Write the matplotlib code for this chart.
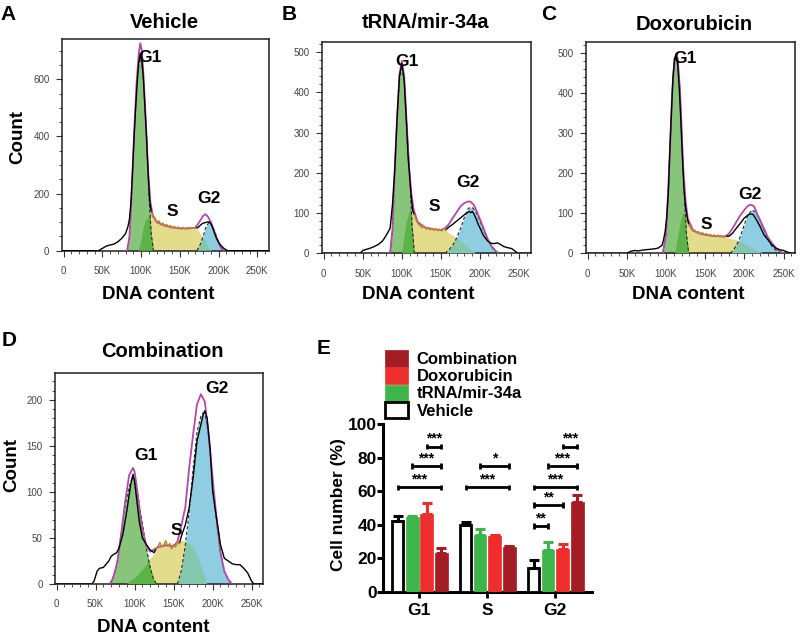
import numpy as np
import matplotlib
matplotlib.use('Agg')
import matplotlib.pyplot as plt
from matplotlib.ticker import MultipleLocator, FuncFormatter
from matplotlib.patches import Patch

plt.rcParams['font.family'] = ['Liberation Sans', 'DejaVu Sans']

# ---------------- Panel A: Vehicle (DNA content in K) ----------------
A_data_x = [0, 45, 50, 55, 60, 65, 70, 75, 80, 83, 85, 87, 89, 91, 93, 95, 97, 99, 101, 103, 105, 107, 109, 111,
            113, 115.5, 118, 120.5, 123, 125.5, 128, 130.5, 133, 135.5, 138, 140.5, 143, 145.5, 148, 150.5,
            153, 155.5, 158, 160.5, 163, 165.5, 168, 170.5,
            173, 176, 179, 182, 185, 188, 191, 194, 197, 200, 203, 206, 209, 212, 265]
A_data_y = [0, 0, 8, 16, 20, 23, 31, 43, 60, 84, 110, 170, 280, 400, 500, 590, 660, 690, 670, 600, 500, 400, 280, 180,
            135, 117, 113, 98, 105, 90, 97, 87, 92, 83, 88, 79, 85, 78, 83, 76,
            81, 79, 76, 82, 77, 80, 78, 82,
            80, 88, 95, 98, 100, 101, 90, 68, 45, 30, 18, 10, 4, 0, 0]
A_model_x = [82, 85, 88, 91, 94, 97, 99, 101, 103, 106, 109, 112, 115, 120, 130, 140, 150, 160, 170, 175,
             180, 183, 186, 190, 194, 198, 202, 206]
A_model_y = [0, 50, 210, 410, 580, 690, 726, 700, 620, 460, 280, 170, 125, 100, 88, 82, 78, 78, 80, 100,
             122, 128, 120, 100, 70, 40, 15, 0]
A_g1_x = [82, 85, 88, 91, 94, 96, 99, 102, 104, 107, 110, 113, 116]
A_g1_y = [0, 40, 200, 400, 560, 630, 683, 630, 560, 400, 200, 60, 0]
A_s_rise_x = [97, 100, 103, 106, 109, 111]
A_s_rise_y = [0, 30, 75, 105, 112, 120]
A_s_range = (113, 170.5)
A_s_fall_x = [173, 176, 179, 182, 185, 188, 191]
A_s_fall_y = [72, 62, 50, 38, 25, 12, 0]
A_g2_x = [172, 176, 180, 184, 188, 192, 196, 200, 204, 207]
A_g2_y = [0, 20, 50, 85, 100, 88, 60, 30, 8, 0]

# ---------------- Panel B: tRNA/mir-34a ----------------
B_data_x = [0, 47, 50, 55, 60, 65, 70, 75, 78, 81, 85, 88, 91, 94, 97, 100, 103, 106, 108, 110, 112, 114,
            116, 118.5, 121, 123.5, 126, 128.5, 131, 133.5, 136, 138.5, 141, 143.5, 146, 148.5, 151, 153.5, 156,
            160, 165, 170, 175, 180, 183, 186, 188, 190, 192, 195, 198, 201, 204, 207, 210, 214, 218, 222, 226,
            230, 235, 240, 245, 248, 265]
B_data_y = [0, 0, 7, 10, 13, 17, 22, 30, 38, 48, 62, 120, 210, 340, 440, 472, 430, 320, 240, 190, 140, 105,
            96, 82, 73, 68, 63, 67, 60, 64, 58, 62, 57, 61, 56, 60, 55, 62, 58,
            65, 72, 80, 88, 96, 100, 104, 101, 104, 98, 85, 70, 58, 45, 37, 30, 25, 24, 26, 22,
            17, 14, 12, 5, 0, 0]
B_model_x = [85, 88, 91, 94, 97, 100, 103, 106, 109, 112, 115, 120, 130, 140, 150, 155, 160, 165, 170, 175,
             180, 185, 188, 192, 196, 200, 205, 210, 215, 220, 224]
B_model_y = [0, 60, 210, 340, 445, 478, 440, 330, 220, 150, 110, 78, 64, 60, 58, 62, 72, 88, 102, 117,
             125, 129, 128, 120, 103, 84, 59, 34, 17, 5, 0]
B_g1_x = [85, 88, 91, 94, 97, 100, 103, 106, 110, 113, 116]
B_g1_y = [0, 50, 200, 330, 430, 465, 430, 330, 200, 70, 0]
B_s_rise_x = [100, 103, 106, 109, 112, 114]
B_s_rise_y = [0, 35, 75, 100, 108, 104]
B_s_range = (116, 156)
B_s_fall_x = [160, 165, 170, 175, 180, 185, 190, 195]
B_s_fall_y = [50, 45, 38, 30, 22, 14, 6, 0]
B_g2_x = [155, 160, 165, 170, 175, 180, 185, 190, 195, 200, 205, 210, 215, 220, 224]
B_g2_y = [0, 8, 20, 38, 62, 90, 112, 114, 102, 80, 55, 32, 15, 5, 0]

# ---------------- Panel C: Doxorubicin ----------------
C_data_x = [0, 50, 55, 60, 65, 70, 75, 80, 85, 90, 95, 97, 99, 101, 103, 105, 107, 109, 111, 113, 115, 117, 119,
            121, 123, 125, 127,
            129, 131.5, 134, 136.5, 139, 141.5, 144, 146.5, 149, 151.5, 154, 156.5, 159, 161.5, 164, 166.5,
            169, 171.5, 174, 176.5,
            180, 185, 190, 195, 200, 205, 208, 211, 215, 220, 225, 230, 235, 240, 245, 250, 255, 260, 265]
C_data_y = [0, 0, 5, 7, 6, 8, 9, 10, 11, 13, 20, 34, 55, 90, 150, 260, 350, 440, 485, 492, 470, 410, 330,
            240, 160, 115, 90,
            72, 63, 56, 58, 51, 54, 48, 52, 46, 49, 44, 47, 43, 46, 42, 45,
            41, 44, 40, 43,
            42, 50, 63, 75, 88, 96, 98, 97, 85, 67, 46, 34, 21, 13, 9, 7, 3, 0, 0]
C_model_x = [96, 100, 104, 108, 111, 113, 115, 118, 122, 125, 128, 135, 145, 160, 175, 180, 185,
             190, 195, 200, 204, 207, 210, 213, 217, 220, 225, 230, 235, 240, 245, 250]
C_model_y = [0, 45, 205, 405, 485, 496, 485, 405, 215, 130, 85, 56, 48, 43, 42, 48, 62,
             79, 95, 108, 117, 121, 120, 115, 95, 83, 62, 40, 26, 14, 5, 0]
C_g1_x = [96, 100, 104, 108, 111, 113, 115, 118, 122, 126, 129]
C_g1_y = [0, 40, 200, 400, 480, 490, 480, 400, 200, 50, 0]
C_s_rise_x = [112, 115, 118, 121, 124, 127]
C_s_rise_y = [0, 35, 70, 95, 100, 88]
C_s_range = (129, 176.5)
C_s_fall_x = [180, 185, 190, 195, 200, 205, 210, 215, 220, 225]
C_s_fall_y = [38, 36, 33, 29, 24, 18, 12, 7, 3, 0]
C_g2_x = [182, 186, 190, 195, 200, 205, 210, 215, 220, 225, 230, 235, 240, 245, 250]
C_g2_y = [0, 8, 20, 42, 72, 97, 108, 102, 82, 58, 36, 18, 8, 3, 0]

# ---------------- Panel D: Combination ----------------
D_data_x = [0, 45, 48, 52, 55, 60, 63, 67, 70, 73, 77, 80, 85, 90, 95, 98, 100, 103, 106, 110, 115, 120, 125,
            127.5, 130, 132.5, 135, 137.5, 140, 142.5, 145, 147.5, 150, 152.5, 155, 157.5,
            160, 165, 170, 175, 180, 185, 188, 190, 193, 197, 200, 203, 207, 210, 215, 220, 225, 230, 235, 240,
            245, 250, 253, 265]
D_data_y = [0, 0, 3, 14, 17, 18, 21, 25, 30, 32, 34, 39, 54, 79, 108, 119, 111, 90, 68, 50, 43, 37, 34,
            38, 41, 45, 40, 43, 47, 41, 44, 38, 43, 40, 46, 44,
            52, 64, 83, 115, 155, 173, 184, 188, 180, 145, 101, 83, 61, 43, 28, 25, 22, 21, 21, 17,
            12, 3, 0, 0]
D_model_x = [69, 73, 78, 83, 88, 93, 98, 100, 103, 106, 110, 115, 120, 130, 140, 150, 155, 160, 165, 170,
             175, 180, 185, 190, 195, 200, 205, 210, 215, 220, 225]
D_model_y = [0, 8, 24, 55, 90, 118, 126, 122, 104, 82, 58, 42, 35, 40, 42, 41, 46, 64, 83, 126,
             162, 195, 206, 198, 162, 115, 72, 35, 14, 5, 0]
D_g1_x = [68, 72, 77, 82, 87, 92, 97, 100, 104, 108, 112, 116, 120, 124, 128]
D_g1_y = [0, 6, 20, 50, 80, 102, 116, 114, 98, 75, 55, 35, 18, 6, 0]
D_s_rise_x = [90, 100, 105, 110, 115, 120, 125]
D_s_rise_y = [0, 6, 10, 15, 20, 28, 33]
D_s_range = (127.5, 157.5)
D_s_fall_x = [160, 165, 170, 175, 180, 185, 190, 193]
D_s_fall_y = [48, 46, 44, 40, 32, 20, 8, 0]
D_g2_x = [155, 160, 165, 170, 175, 180, 185, 188, 191, 195, 200, 205, 210, 215, 220, 225]
D_g2_y = [0, 15, 42, 78, 125, 165, 182, 186, 182, 160, 112, 68, 35, 14, 5, 0]

# ---------------- Panel E: cell cycle distribution (%) ----------------
phases = ['G1', 'S', 'G2']
groups = ['Vehicle', 'tRNA/mir-34a', 'Doxorubicin', 'Combination']
vehicle_mean = [42.4, 39.8, 14.3]
trna_mean = [44.8, 33.9, 24.9]
dox_mean = [46.4, 33.3, 25.3]
comb_mean = [22.9, 26.7, 53.8]
vehicle_err = [2.8, 1.6, 4.8]
trna_err = [0.6, 3.6, 4.6]
dox_err = [6.4, 0.4, 3.2]
comb_err = [3.2, 0.5, 3.8]
# (phase index, group a, group b, bracket height, label)
brackets = [
    (0, 0, 3, 62.3, '***'), (0, 1, 3, 75.1, '***'), (0, 2, 3, 86.7, '***'),
    (1, 0, 3, 62.3, '***'), (1, 1, 3, 75.1, '*'),
    (2, 0, 1, 39.2, '**'), (2, 0, 2, 51.8, '**'), (2, 0, 3, 62.3, '***'),
    (2, 1, 3, 75.1, '***'), (2, 2, 3, 86.7, '***'),
]

# ---------------- styles ----------------
W, H = 800, 639
GREEN = '#86C57A'
DKGREEN = '#5DB446'
YELLOW = '#E3DC8A'
BLUE = '#8ECDE2'
TEAL = '#84C7AE'
MAGENTA = '#B04AA6'
ORANGE = '#C0822E'
TICKCOL = '#444444'

fig = plt.figure(figsize=(8, 6.39), dpi=100)


def px_axes(l, t, r, b):
    return fig.add_axes([l / W, 1 - b / H, (r - l) / W, (b - t) / H])


def ftext(x, y, s, **kw):
    fig.text(x / W, 1 - y / H, s, **kw)


def hist_panel(ax, data_x, data_y, model_x, model_y, g1_x, g1_y, s_rise_x, s_rise_y, s_range,
               s_fall_x, s_fall_y, g2_x, g2_y, ymax, major, minor):
    dx = np.array(data_x, float)
    dy = np.array(data_y, float)
    lo, hi = s_range
    mid = (dx >= lo) & (dx <= hi)
    sx = np.concatenate([s_rise_x, dx[mid], s_fall_x])
    sy = np.concatenate([s_rise_y, dy[mid], s_fall_y])
    s_poly = ax.fill_between(sx, 0, sy, color=YELLOW, lw=0, zorder=1)
    ax.fill_between(g1_x, 0, g1_y, color=GREEN, lw=0, zorder=2)
    ax.fill_between(g2_x, 0, g2_y, color=BLUE, lw=0, zorder=2)
    clip = s_poly.get_paths()[0]
    o1 = ax.fill_between(g1_x, 0, g1_y, color=DKGREEN, lw=0, zorder=3)
    o1.set_clip_path(clip, ax.transData)
    o2 = ax.fill_between(g2_x, 0, g2_y, color=TEAL, lw=0, zorder=3)
    o2.set_clip_path(clip, ax.transData)
    ax.plot(g1_x, g1_y, color='#2a2a2a', lw=0.8, ls=(0, (3, 2)), zorder=4)
    ax.plot(g2_x, g2_y, color='#2a2a2a', lw=0.8, ls=(0, (3, 2)), zorder=4)
    ax.plot(model_x, model_y, color=MAGENTA, lw=1.3, zorder=5)
    left = dx <= lo
    right = dx >= hi
    ax.plot(dx[left], dy[left], color='black', lw=1.0, zorder=6)
    ax.plot(dx[right], dy[right], color='black', lw=1.0, zorder=6)
    ax.plot(dx[mid], dy[mid], color=ORANGE, lw=1.0, zorder=7)
    ax.set_xlim(-2, 265)
    ax.set_ylim(0, ymax)
    ax.xaxis.set_major_locator(MultipleLocator(50))
    ax.xaxis.set_minor_locator(MultipleLocator(10))
    ax.xaxis.set_major_formatter(FuncFormatter(lambda v, p: '0' if v == 0 else f'{int(v)}K'))
    ax.yaxis.set_major_locator(MultipleLocator(major))
    ax.yaxis.set_minor_locator(MultipleLocator(minor))
    ax.tick_params(which='major', direction='out', length=4, width=0.8, color='#333333',
                   labelsize=7, labelcolor=TICKCOL)
    ax.tick_params(axis='x', which='major', pad=7)
    ax.tick_params(axis='y', which='major', pad=5)
    ax.tick_params(which='minor', direction='out', length=2, width=0.6, color='#333333')
    for sp in ax.spines.values():
        sp.set_linewidth(1.1)
        sp.set_color('#222222')


axA = px_axes(62, 39, 269, 250.7)
hist_panel(axA, A_data_x, A_data_y, A_model_x, A_model_y, A_g1_x, A_g1_y, A_s_rise_x, A_s_rise_y,
           A_s_range, A_s_fall_x, A_s_fall_y, A_g2_x, A_g2_y, 741, 200, 50)
axB = px_axes(322, 42, 531, 253.3)
hist_panel(axB, B_data_x, B_data_y, B_model_x, B_model_y, B_g1_x, B_g1_y, B_s_rise_x, B_s_rise_y,
           B_s_range, B_s_fall_x, B_s_fall_y, B_g2_x, B_g2_y, 525, 100, 20)
axC = px_axes(586, 41.7, 795.3, 253.3)
hist_panel(axC, C_data_x, C_data_y, C_model_x, C_model_y, C_g1_x, C_g1_y, C_s_rise_x, C_s_rise_y,
           C_s_range, C_s_fall_x, C_s_fall_y, C_g2_x, C_g2_y, 527, 100, 20)
axD = px_axes(55, 373, 263.3, 584)
hist_panel(axD, D_data_x, D_data_y, D_model_x, D_model_y, D_g1_x, D_g1_y, D_s_rise_x, D_s_rise_y,
           D_s_range, D_s_fall_x, D_s_fall_y, D_g2_x, D_g2_y, 229, 50, 10)

ann = dict(fontsize=12.5, fontweight='bold', ha='center', va='center', zorder=10)
axA.text(111, 677, 'G1', **ann); axA.text(140, 136, 'S', **ann); axA.text(187, 183, 'G2', **ann)
axB.text(107, 477, 'G1', **ann); axB.text(141, 117, 'S', **ann); axB.text(184, 175, 'G2', **ann)
axC.text(124, 484, 'G1', **ann); axC.text(151, 71, 'S', **ann); axC.text(207, 147, 'G2', **ann)
axD.text(114, 140, 'G1', **ann); axD.text(153, 58, 'S', **ann); axD.text(206, 212, 'G2', **ann)

lab = dict(fontsize=13.5, fontweight='bold', va='center', ha='center')
for ax, xc, yc in [(axA, 0.464, -0.209), (axB, 0.459, -0.197), (axC, 0.487, -0.197), (axD, 0.47, -0.2085)]:
    ax.set_xlabel('DNA content', **lab)
    ax.xaxis.set_label_coords(xc, yc)
axA.set_ylabel('Count', **lab)
axA.yaxis.set_label_coords(-0.2126, 0.537)
axD.set_ylabel('Count', **lab)
axD.yaxis.set_label_coords(-0.2064, 0.564)

tit = dict(fontsize=14.5, fontweight='bold', ha='center', va='center')
ftext(164, 22.5, 'Vehicle', **tit)
ftext(426, 22, 'tRNA/mir-34a', **tit)
ftext(694, 24, 'Doxorubicin', **tit)
ftext(162, 351, 'Combination', **tit)

let = dict(fontsize=15, fontweight='bold', ha='center', va='center')
ftext(8, 15, 'A', **let)
ftext(289, 15, 'B', **let)
ftext(549, 15, 'C', **let)
ftext(9, 341, 'D', **let)
ftext(324, 349, 'E', **let)

# ---------------- Panel E ----------------
axE = px_axes(383.3, 424.3, 592, 591.7)
x = np.arange(len(phases))
offsets = [-0.32, -0.107, 0.107, 0.32]
bw = 0.19
means = [vehicle_mean, trna_mean, dox_mean, comb_mean]
errs = [vehicle_err, trna_err, dox_err, comb_err]
faces = ['white', '#3DB54A', '#EE2D2D', '#A51D24']
ecols = ['black', '#3DB54A', '#EE2D2D', '#A51D24']
handles = []
for i in range(4):
    xs = x + offsets[i]
    if i == 0:
        axE.bar(xs, means[i], bw * 0.9, color='white', edgecolor='black', linewidth=2, zorder=3)
    else:
        axE.bar(xs, means[i], bw, color=faces[i], edgecolor=faces[i], linewidth=0.5, zorder=3)
    axE.errorbar(xs, means[i], yerr=[np.zeros(3), errs[i]], fmt='none', ecolor=ecols[i],
                 elinewidth=2.2, capsize=3.3, capthick=2.2, zorder=4)
    handles.append(Patch(facecolor=faces[i], edgecolor='black' if i == 0 else faces[i],
                         linewidth=2 if i == 0 else 0.5))

for (p, a, bidx, yv, s) in brackets:
    x1 = p + offsets[a]
    x2 = p + offsets[bidx]
    axE.plot([x1, x2], [yv, yv], color='black', lw=2, solid_capstyle='butt', zorder=5)
    for xx in (x1, x2):
        axE.plot([xx, xx], [yv - 1.6, yv + 1.6], color='black', lw=2, solid_capstyle='butt', zorder=5)
    axE.text((x1 + x2) / 2, yv + 0.6, s, ha='center', va='bottom', fontsize=10, fontweight='bold', zorder=6)

axE.set_xlim(-0.53, 2.54)
axE.set_ylim(0, 100)
axE.set_xticks(x)
axE.set_xticklabels(phases)
axE.yaxis.set_major_locator(MultipleLocator(20))
axE.spines['top'].set_visible(False)
axE.spines['right'].set_visible(False)
axE.spines['left'].set_linewidth(2.2)
axE.spines['bottom'].set_linewidth(2.2)
axE.tick_params(axis='y', direction='out', length=4, width=2.2, pad=0.5, labelsize=12.5)
axE.tick_params(axis='x', direction='out', length=4, width=2, pad=4, labelsize=12.5)
for t in axE.get_xticklabels() + axE.get_yticklabels():
    t.set_fontweight('bold')
axE.set_ylabel('Cell number (%)', fontsize=12.5, fontweight='bold', va='center', ha='center')
axE.yaxis.set_label_coords(-0.217, 0.518)

leg = axE.legend(handles[::-1], groups[::-1], loc='upper left',
                 bbox_to_anchor=(385 / W, 1 - 350 / H), bbox_transform=fig.transFigure,
                 frameon=False, borderpad=0, borderaxespad=0, handlelength=1.35, handleheight=1.15,
                 handletextpad=0.55, labelspacing=0.02, prop={'weight': 'bold', 'size': 12})

fig.savefig('out.png', dpi=100)
